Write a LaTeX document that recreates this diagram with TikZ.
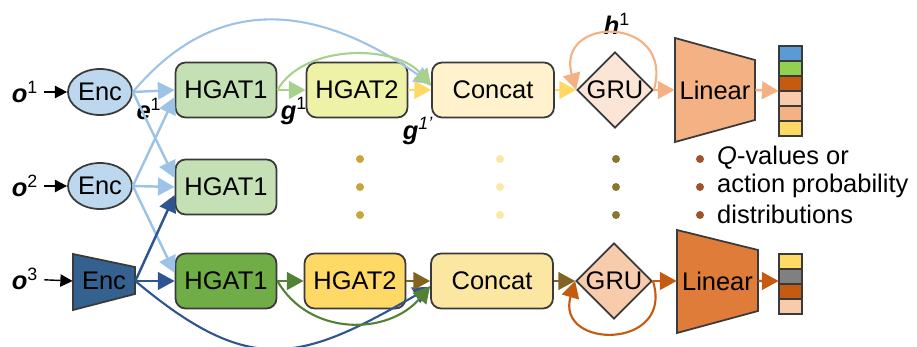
\documentclass[tikz,border=0pt]{standalone}
\usepackage{fontspec}
\setmainfont{Liberation Sans}
\usetikzlibrary{shapes.geometric,arrows.meta}
\definecolor{edge}{HTML}{3A3A3A}
\definecolor{encblue}{HTML}{BDD7EE}
\definecolor{encdark}{HTML}{34618F}
\definecolor{hgatlight}{HTML}{C5E0B4}
\definecolor{hgatdark}{HTML}{70AD47}
\definecolor{hgattwo}{HTML}{EEF2A6}
\definecolor{hgattwob}{HTML}{FFD966}
\definecolor{catlight}{HTML}{FFF2CC}
\definecolor{catbottom}{HTML}{FBE7A1}
\definecolor{grulight}{HTML}{FBE5D6}
\definecolor{grudark}{HTML}{F8CBAD}
\definecolor{linlight}{HTML}{F4B183}
\definecolor{lindark}{HTML}{E07C3A}
\definecolor{arrlblue}{HTML}{9DC3E6}
\definecolor{arrdblue}{HTML}{2E5590}
\definecolor{arrlgreen}{HTML}{A9D18E}
\definecolor{arryellow}{HTML}{FFD966}
\definecolor{arrpeach}{HTML}{F4B183}
\definecolor{arrdgreen}{HTML}{548235}
\definecolor{arrolive}{HTML}{826420}
\definecolor{arrorange}{HTML}{C55A11}
\definecolor{dotgold}{HTML}{C9A43A}
\definecolor{dotpale}{HTML}{F9E8A6}
\definecolor{dotolive}{HTML}{8A7530}
\definecolor{dotbrown}{HTML}{A0522D}
\definecolor{vblue}{HTML}{5B9BD5}
\definecolor{vgreen}{HTML}{92D050}
\definecolor{vorange}{HTML}{C55A11}
\definecolor{vlpeach}{HTML}{F8CBAD}
\definecolor{vpeach}{HTML}{F4B183}
\definecolor{vyellow}{HTML}{FFD966}
\definecolor{vgray}{HTML}{808080}
\begin{document}
\begin{tikzpicture}
	[x=0.02cm,y=-0.02cm,font=\fontsize{14.5pt}{17pt}\selectfont,
	 box/.style={rectangle,rounded corners=0.2cm,draw=edge,line width=1pt,minimum width=2.02cm,minimum height=1.1cm,inner sep=0},
	 catbox/.style={box,minimum width=2.44cm},
	 enc/.style={ellipse,draw=edge,line width=1pt,fill=encblue,minimum width=1.28cm,minimum height=0.92cm,inner sep=0},
	 gru/.style={diamond,draw=edge,line width=1pt,minimum width=1.52cm,minimum height=1.52cm,inner sep=0},
	 lbl/.style={font=\fontsize{14.5pt}{17pt}\selectfont\bfseries\itshape},
	 dot/.style={circle,inner sep=0,minimum size=0.16cm},
	 >={Triangle[length=9.5pt,width=10pt]}]
	\useasboundingbox (0,0) rectangle (917,347);
	% trapezia
	\draw[draw=edge,line width=1pt,fill=encdark] (73,254) -- (135,267) -- (135,294) -- (73,310) -- cycle;
	\draw[draw=edge,line width=1pt,fill=linlight] (675,38) -- (755,60) -- (755,120) -- (675,142) -- cycle;
	\draw[draw=edge,line width=1pt,fill=lindark] (677,230) -- (758,250) -- (758,311) -- (677,333) -- cycle;
	% output vectors
	\foreach \c [count=\i] in {vblue,vgreen,vorange,vlpeach,vpeach,vyellow}
		\draw[draw=edge,line width=1pt,fill=\c] (779,{46+15*(\i-1)}) rectangle ++(23,15);
	\foreach \c [count=\i] in {vyellow,vgray,vorange,vlpeach}
		\draw[draw=edge,line width=1pt,fill=\c] (779,{254+15*(\i-1)}) rectangle ++(23,15);
	\node[name=vec1,minimum width=0.46cm,minimum height=1.8cm,inner sep=0] at (790.5,91) {};
	\node[name=vec2,minimum width=0.46cm,minimum height=1.2cm,inner sep=0] at (790.5,284) {};
	% inputs
	\node[lbl,name=o1] at (25,92) {o\textsuperscript{\mdseries\upshape 1}};
	\node[lbl,name=o2] at (25,186) {o\textsuperscript{\mdseries\upshape 2}};
	\node[lbl,name=o3] at (25,279) {o\textsuperscript{\mdseries\upshape 3}};
	\node[enc,name=enc1] at (100,92) {Enc};
	\node[enc,name=enc2] at (100,186) {Enc};
	\node[name=enc3,minimum width=1.24cm,minimum height=0.8cm,inner sep=0] at (104,281) {Enc};
	% row 1
	\node[box,fill=hgatlight,name=h1a] at (226,90) {HGAT1};
	\node[box,fill=hgattwo,name=h2a] at (357,90) {HGAT2};
	\node[catbox,fill=catlight,name=cat1] at (493,90) {Concat};
	\node[gru,fill=grulight,name=gru1] at (615,90) {GRU};
	\node[name=lin1,minimum width=1.6cm,minimum height=1.2cm,inner sep=0] at (715,90) {Linear};
	% row 2
	\node[box,fill=hgatlight,name=h1b] at (226,187) {HGAT1};
	% row 3
	\node[box,fill=hgatdark,name=h1c] at (226,281) {HGAT1};
	\node[box,fill=hgattwob,name=h2c] at (355,281) {HGAT2};
	\node[catbox,fill=catbottom,name=cat3] at (492,281) {Concat};
	\node[gru,fill=grudark,name=gru3] at (614,281) {GRU};
	\node[name=lin3,minimum width=1.62cm,minimum height=1.2cm,inner sep=0] at (717.5,281) {Linear};
	% labels
	\node[lbl,name=e1] at (149,109) {e\textsuperscript{\mdseries\upshape 1}};
	\node[lbl,name=g1] at (294,111) {g\textsuperscript{\mdseries\upshape 1}};
	\node[lbl,name=g1p] at (418,131) {g\textsuperscript{\mdseries 1'}};
	\node[lbl,name=hh1] at (617,24) {h\textsuperscript{\mdseries\upshape 1}};
	% dots
	\foreach \y in {159,187,215} {
		\node[dot,fill=dotgold,name=da\y] at (360,\y) {};
		\node[dot,fill=dotpale,name=db\y] at (500,\y) {};
		\node[dot,fill=dotolive,name=dc\y] at (616,\y) {};
		\node[dot,fill=dotbrown,name=dd\y] at (700,\y) {};
	}
	\node[anchor=west,name=t1] at (711,158) {\textit{Q}-values or};
	\node[anchor=west,name=t2] at (711,186) {action probability};
	\node[anchor=west,name=t3] at (711,214) {distributions};
	% connectors
	\draw[->,line width=1pt,-{Triangle[length=7pt,width=7pt]}](o1)--(enc1);
	\draw[->,line width=1pt,-{Triangle[length=7pt,width=7pt]}](o2)--(enc2);
	\draw[->,line width=0.8pt,-{Triangle[length=7pt,width=7pt]}](o3)--(enc3.west);
	\draw[->,line width=1.4pt,arrlblue](enc1.east)--(h1a.west);
	\draw[->,line width=1.4pt,arrlblue](enc1.east)--([yshift=0.18cm]h1b.west);
	\draw[->,line width=1.4pt,arrlblue](enc2.east)--([yshift=-0.14cm]h1a.west);
	\draw[->,line width=1.4pt,arrlblue](enc2.east)--(h1b.west);
	\draw[->,line width=1.4pt,arrlblue](enc2.east)--([yshift=0.16cm]h1c.west);
	\draw[->,line width=1.4pt,arrdblue](enc3.east)--([yshift=-0.16cm]h1b.west);
	\draw[->,line width=1.4pt,arrdblue](enc3.east)--(h1c.west);
	\draw[->,line width=1.2pt,arrlblue](enc1.east) to[out=50,in=145,looseness=1.15] ([yshift=0.12cm]cat1.west);
	\draw[->,line width=1.2pt,arrdblue](enc3.east) to[out=-40,in=-150,looseness=1.3] ([yshift=-0.12cm]cat3.west);
	\draw[->,line width=1.4pt,arrlgreen](h1a)--(h2a);
	\draw[->,line width=1.2pt,arrlgreen](h1a.east) to[out=60,in=130,looseness=0.9] ([yshift=0.08cm]cat1.west);
	\draw[->,line width=1.4pt,arryellow](h2a)--(cat1);
	\draw[->,line width=1.4pt,arryellow](cat1)--(gru1);
	\draw[->,line width=1.2pt,arrpeach](gru1.east) .. controls (675,15) and (555,15) .. (gru1.west);
	\draw[->,line width=1.4pt,arrpeach](gru1)--(lin1.west);
	\draw[->,line width=1.4pt,arrpeach](lin1.east)--(vec1.west);
	\draw[->,line width=1.4pt,arrdgreen](h1c)--(h2c);
	\draw[->,line width=1.2pt,arrdgreen](h1c.east) to[out=-60,in=-130,looseness=1.08] ([yshift=-0.1cm]cat3.west);
	\draw[->,line width=1.4pt,arrolive](h2c)--(cat3);
	\draw[->,line width=1.4pt,arrolive](cat3)--(gru3);
	\draw[->,line width=1.2pt,arrorange](gru3.east) .. controls (675,350) and (555,350) .. (gru3.west);
	\draw[->,line width=1.4pt,arrorange](gru3)--(lin3.west);
	\draw[->,line width=1.4pt,arrorange](lin3.east)--([yshift=0.06cm]vec2.west);
\end{tikzpicture}
\end{document}
